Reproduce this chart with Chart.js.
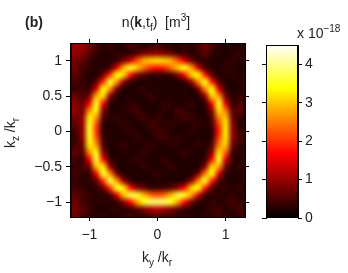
<!DOCTYPE html>
<html>
<head>
<meta charset="utf-8">
<script src="https://cdn.jsdelivr.net/npm/chart.js@4.4.1/dist/chart.umd.min.js"></script>
<style>
body{margin:0;background:#fff;}
#wrap{position:relative;width:348px;height:273px;font-family:"Liberation Sans",Arial,sans-serif;color:#222;}
#wrap canvas{position:absolute;left:0;top:0;}
.lbl{position:absolute;font-size:14px;line-height:14px;white-space:nowrap;}
.lbl sub{font-size:10px;line-height:0;vertical-align:-4px;}
.lbl sup{font-size:10px;line-height:0;vertical-align:6px;}
</style>
</head>
<body>
<div id="wrap">
  <canvas id="heat" width="348" height="273"></canvas>
  <canvas id="cbar" width="348" height="273"></canvas>
  <div class="lbl" style="left:25px;top:15px;font-weight:bold;">(b)</div>
  <div class="lbl" style="left:56px;top:15px;width:200px;text-align:center;">n(<b>k</b>,t<sub>f</sub>)&nbsp; [m<sup>3</sup>]</div>
  <div class="lbl" style="left:297px;top:26px;">x 10<sup>&minus;18</sup></div>
  <div class="lbl" style="left:107px;top:250px;width:100px;text-align:center;">k<sub>y</sub> /k<sub>r</sub></div>
  <div class="lbl" style="left:-30px;top:126px;width:80px;height:14px;text-align:center;transform:rotate(-90deg);">k<sub>z</sub> /k<sub>r</sub></div>
</div>
<script>
// axis ranges and ticks (k / k_r)
var xRange = [-1.285, 1.285];
var yRange = [-1.21, 1.25];
var xTicks = [-1, 0, 1];
var yTicks = [-1, -0.5, 0, 0.5, 1];
// colour bar, units of 1e-18 m^3
var cMax = 4.5;
var cTicks = [0, 1, 2, 3, 4];
// the grid of n(k,t_f) covers -1.25..1.25 in both k_y and k_z
var gridExtent = [-1.25, 1.25];
// rows go from k_z = 1.2 (top) down to -1.2, columns k_y = -1.2 .. 1.2 (step 0.1)
var density = [
  [0.95,1.0,0.75,0.45,0.25,0.35,0.2,0.25,0.45,0.35,0.25,0.35,0.45,0.35,0.25,0.2,0.35,0.25,0.45,0.7,0.45,0.25,0.2,0.25,0.2],
  [1.0,0.85,0.6,0.35,0.25,0.25,0.35,0.25,0.35,0.6,0.85,0.95,1.0,0.85,0.75,0.45,0.45,0.25,0.35,0.6,0.35,0.25,0.2,0.25,0.35],
  [0.75,0.6,0.35,0.25,0.25,0.25,0.35,0.85,1.35,2.2,2.8,3.05,3.15,3.05,2.8,2.2,1.45,0.75,0.35,0.35,0.25,0.2,0.25,0.35,0.25],
  [0.7,0.45,0.35,0.25,0.25,0.45,1.45,2.8,3.55,3.0,2.4,1.95,1.8,1.95,2.4,3.0,3.5,2.7,1.35,0.45,0.25,0.25,0.35,0.25,0.2],
  [0.6,0.35,0.25,0.25,0.7,1.95,3.4,3.15,1.8,0.85,0.6,0.35,0.35,0.35,0.45,0.85,1.8,3.05,3.3,1.85,0.6,0.25,0.25,0.35,0.25],
  [0.45,0.35,0.25,0.6,1.95,3.55,2.65,1.0,0.35,0.25,0.2,0.25,0.2,0.25,0.2,0.25,0.35,1.0,2.55,3.5,1.85,0.6,0.25,0.2,0.25],
  [0.35,0.45,0.35,1.45,3.4,2.65,0.85,0.25,0.2,0.25,0.35,0.2,0.25,0.2,0.25,0.2,0.25,0.2,0.85,2.55,3.4,1.45,0.35,0.25,0.2],
  [0.7,0.45,0.85,2.8,3.15,1.0,0.25,0.2,0.25,0.2,0.25,0.35,0.25,0.2,0.25,0.2,0.25,0.2,0.25,1.0,3.05,2.7,0.75,0.25,0.35],
  [0.85,0.7,1.6,3.55,1.8,0.35,0.25,0.2,0.35,0.25,0.2,0.25,0.2,0.35,0.25,0.2,0.25,0.35,0.2,0.35,1.8,3.5,1.45,0.35,0.45],
  [0.95,0.75,2.55,3.4,0.95,0.25,0.2,0.25,0.35,0.45,0.25,0.2,0.25,0.35,0.25,0.45,0.35,0.25,0.2,0.25,0.95,3.15,2.4,0.6,0.6],
  [0.75,0.95,3.25,2.7,0.6,0.25,0.35,0.25,0.2,0.35,0.45,0.25,0.35,0.25,0.2,0.35,0.45,0.35,0.25,0.2,0.6,2.55,3.0,0.75,0.35],
  [0.6,1.0,3.55,2.2,0.35,0.2,0.25,0.35,0.25,0.2,0.25,0.45,0.35,0.25,0.35,0.25,0.2,0.25,0.35,0.25,0.45,2.05,3.25,0.95,0.25],
  [0.45,1.0,3.55,2.05,0.35,0.25,0.2,0.25,0.35,0.25,0.2,0.25,0.45,0.35,0.25,0.2,0.25,0.35,0.25,0.2,0.35,1.85,3.3,1.0,0.35],
  [0.35,0.95,3.5,2.3,0.45,0.25,0.2,0.25,0.2,0.35,0.25,0.2,0.35,0.45,0.25,0.35,0.25,0.2,0.25,0.2,0.35,2.1,3.25,0.95,0.45],
  [0.45,0.75,3.25,2.7,0.6,0.2,0.25,0.35,0.25,0.2,0.25,0.35,0.25,0.2,0.35,0.25,0.2,0.25,0.35,0.25,0.6,2.55,3.0,0.7,0.35],
  [0.6,0.6,2.55,3.4,0.95,0.25,0.2,0.25,0.2,0.25,0.35,0.25,0.2,0.25,0.2,0.25,0.35,0.25,0.2,0.25,0.95,3.15,2.3,0.45,0.25],
  [0.45,0.35,1.6,3.65,1.85,0.45,0.25,0.2,0.25,0.35,0.25,0.2,0.25,0.35,0.25,0.2,0.25,0.2,0.25,0.35,1.8,3.5,1.45,0.35,0.25],
  [0.35,0.45,0.75,2.9,3.25,1.1,0.25,0.2,0.25,0.2,0.35,0.25,0.2,0.25,0.35,0.25,0.2,0.25,0.2,1.0,3.05,2.7,0.75,0.25,0.35],
  [0.45,0.35,0.35,1.55,3.55,2.7,0.85,0.25,0.2,0.25,0.2,0.25,0.35,0.25,0.2,0.25,0.2,0.25,0.85,2.55,3.4,1.45,0.35,0.25,0.2],
  [0.35,0.25,0.35,0.6,1.95,3.65,2.7,1.1,0.35,0.2,0.25,0.2,0.25,0.2,0.25,0.2,0.35,1.0,2.55,3.5,1.85,0.6,0.25,0.2,0.25],
  [0.45,0.35,0.25,0.35,0.7,1.95,3.55,3.25,1.85,1.0,0.7,0.35,0.45,0.45,0.6,1.0,1.8,3.05,3.4,1.85,0.6,0.25,0.35,0.25,0.35],
  [0.6,0.45,0.35,0.25,0.25,0.45,1.45,2.9,3.65,3.65,2.9,2.4,2.2,2.4,2.9,3.65,3.5,2.7,1.35,0.45,0.25,0.35,0.25,0.35,0.25],
  [0.7,0.45,0.35,0.25,0.35,0.25,0.35,0.85,1.7,2.7,3.5,3.85,3.85,3.85,3.5,2.7,1.7,0.75,0.35,0.25,0.35,0.25,0.35,0.45,0.35],
  [0.75,0.6,0.35,0.25,0.2,0.25,0.35,0.25,0.35,0.6,0.85,1.1,1.2,1.1,0.85,0.6,0.35,0.25,0.2,0.25,0.35,0.45,0.25,0.35,0.45],
  [0.7,0.45,0.35,0.25,0.35,0.2,0.25,0.35,0.45,0.25,0.35,0.45,0.6,0.35,0.45,0.25,0.35,0.25,0.2,0.35,0.25,0.45,0.35,0.25,0.35]
];

var tickFont = {family: '"Liberation Sans", Arial, sans-serif', size: 14};
var inkColor = '#222';

// matlab "hot" colormap, t in 0..1
function hot(t){
    t = Math.max(0, Math.min(1, t));
    var r = Math.min(1, t / 0.375);
    var g = Math.max(0, Math.min(1, (t - 0.375) / 0.375));
    var b = Math.max(0, Math.min(1, (t - 0.75) / 0.25));
    return [Math.round(r * 255), Math.round(g * 255), Math.round(b * 255)];
}

function fmt(v){
    return String(v).replace('-', '\u2212');
}
function setTicks(arr){
    return function(scale){
        scale.ticks = arr.map(function(v){ return {value: v}; });
    };
}
function fixWidth(w){
    return function(scale){ scale.width = w; };
}
function fixHeight(h){
    return function(scale){ scale.height = h; };
}

var axisGrid = {drawOnChartArea: false, drawTicks: true, tickLength: 4, color: '#000', lineWidth: 1};
var axisBorder = {display: true, color: '#000', width: 1};

var heatPlugin = {
    id: 'heat',
    beforeDraw: function(chart){
        var ctx = chart.ctx, a = chart.chartArea;
        var xs = chart.scales.x, ys = chart.scales.y;
        var nr = density.length, nc = density[0].length;
        var off = document.createElement('canvas');
        off.width = nc;
        off.height = nr;
        var octx = off.getContext('2d');
        var img = octx.createImageData(nc, nr);
        for(var r = 0; r < nr; r++){
            for(var c = 0; c < nc; c++){
                var col = hot(density[r][c] / cMax);
                var k = (r * nc + c) * 4;
                img.data[k] = col[0];
                img.data[k + 1] = col[1];
                img.data[k + 2] = col[2];
                img.data[k + 3] = 255;
            }
        }
        octx.putImageData(img, 0, 0);
        var x0 = xs.getPixelForValue(gridExtent[0]), x1 = xs.getPixelForValue(gridExtent[1]);
        var y0 = ys.getPixelForValue(gridExtent[1]), y1 = ys.getPixelForValue(gridExtent[0]);
        ctx.save();
        ctx.beginPath();
        ctx.rect(a.left, a.top, a.right - a.left, a.bottom - a.top);
        ctx.clip();
        var bg = hot(0.3 / cMax);
        ctx.fillStyle = 'rgb(' + bg.join(',') + ')';
        ctx.fillRect(a.left, a.top, a.right - a.left, a.bottom - a.top);
        ctx.imageSmoothingEnabled = true;
        ctx.imageSmoothingQuality = 'high';
        ctx.drawImage(off, x0, y0, x1 - x0, y1 - y0);
        ctx.restore();
    }
};

// colour bar: a smooth gradient along the colour axis
var cbarPlugin = {
    id: 'cbar',
    beforeDraw: function(chart){
        var ctx = chart.ctx, a = chart.chartArea, ys = chart.scales.y;
        var pBot = ys.getPixelForValue(0), pTop = ys.getPixelForValue(cMax);
        var grad = ctx.createLinearGradient(0, pBot, 0, pTop);
        [0, 0.375, 0.75, 1].forEach(function(t){
            grad.addColorStop(t, 'rgb(' + hot(t).join(',') + ')');
        });
        ctx.fillStyle = grad;
        ctx.fillRect(a.left, pTop, a.right - a.left, pBot - pTop);
    },
    afterDraw: function(chart){
        var ctx = chart.ctx, a = chart.chartArea;
        ctx.save();
        ctx.strokeStyle = '#000';
        ctx.lineWidth = 1;
        ctx.strokeRect(Math.round(a.left) + 0.5, Math.round(a.top) + 0.5, Math.round(a.right - a.left) - 1, Math.round(a.bottom - a.top) - 1);
        ctx.restore();
    }
};

var heatChart = new Chart(document.getElementById('heat'), {
    type: 'scatter',
    data: {datasets: []},
    options: {
        responsive: false,
        animation: false,
        events: [],
        layout: {padding: {left: 0, top: 39, right: 99, bottom: 0}},
        plugins: {legend: {display: false}, tooltip: {enabled: false}},
        scales: {
            x: {
                type: 'linear', position: 'bottom', min: xRange[0], max: xRange[1],
                afterBuildTicks: setTicks(xTicks), afterFit: fixHeight(56),
                ticks: {padding: 6, font: tickFont, color: inkColor, callback: fmt},
                grid: axisGrid, border: axisBorder
            },
            x2: {
                type: 'linear', axis: 'x', position: 'top', min: xRange[0], max: xRange[1],
                afterBuildTicks: setTicks(xTicks), afterFit: fixHeight(4),
                ticks: {display: false}, grid: axisGrid, border: axisBorder
            },
            y: {
                type: 'linear', position: 'left', min: yRange[0], max: yRange[1],
                afterBuildTicks: setTicks(yTicks), afterFit: fixWidth(70),
                ticks: {padding: 4, font: tickFont, color: inkColor, callback: fmt},
                grid: axisGrid, border: axisBorder
            },
            y2: {
                type: 'linear', axis: 'y', position: 'right', min: yRange[0], max: yRange[1],
                afterBuildTicks: setTicks(yTicks), afterFit: fixWidth(4),
                ticks: {display: false}, grid: axisGrid, border: axisBorder
            }
        }
    },
    plugins: [heatPlugin]
});

var cbarChart = new Chart(document.getElementById('cbar'), {
    type: 'scatter',
    data: {datasets: []},
    options: {
        responsive: false,
        animation: false,
        events: [],
        layout: {padding: {left: 262, top: 45, right: 20, bottom: 55}},
        plugins: {legend: {display: false}, tooltip: {enabled: false}},
        scales: {
            x: {type: 'linear', display: false, min: 0, max: 1},
            y: {
                type: 'linear', position: 'right', min: 0, max: cMax,
                afterBuildTicks: setTicks(cTicks), afterFit: fixWidth(30),
                ticks: {padding: 3, font: tickFont, color: inkColor, callback: fmt},
                grid: axisGrid, border: axisBorder
            },
            yl: {
                type: 'linear', axis: 'y', position: 'left', min: 0, max: cMax,
                afterBuildTicks: setTicks(cTicks), afterFit: fixWidth(4),
                ticks: {display: false}, grid: axisGrid, border: axisBorder
            }
        }
    },
    plugins: [cbarPlugin]
});
</script>
</body>
</html>
